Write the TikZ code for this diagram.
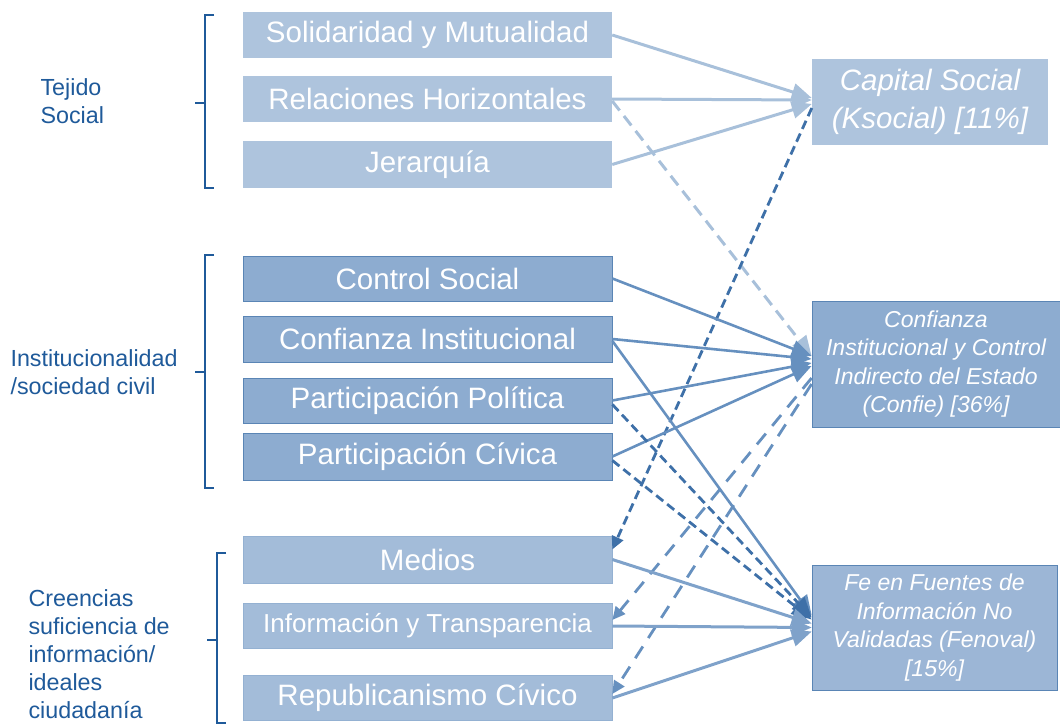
\documentclass[tikz,border=0pt]{standalone}
\usepackage{fontspec}
\setmainfont{Liberation Sans}
\usetikzlibrary{arrows.meta}
\definecolor{boxA}{HTML}{AEC4DD}
\definecolor{boxB}{HTML}{8DACD0}
\definecolor{boxC}{HTML}{A3BCD9}
\definecolor{boxR}{HTML}{9CB6D6}
\definecolor{edgeB}{HTML}{5A85B5}
\definecolor{lab}{HTML}{1F5A9A}
\definecolor{lineA}{HTML}{A8C0DA}
\definecolor{lineB}{HTML}{6690BF}
\definecolor{lineD}{HTML}{3E70A8}
\definecolor{lineC}{HTML}{7FA2CA}
\begin{document}
\begin{tikzpicture}[x=1pt,y=-1pt,
  lbox/.style={rectangle, minimum width=369pt, inner sep=0pt, text=white,
    font=\fontsize{29.5}{31}\selectfont},
  topbox/.style={lbox, fill=boxA},
  midbox/.style={lbox, fill=boxB, draw=edgeB, line width=0.8pt},
  botbox/.style={lbox, fill=boxC, draw=boxC!80!edgeB, line width=0.6pt},
  rbox/.style={rectangle, inner sep=0pt, text=white, align=center},
  grplabel/.style={text=lab, align=left, anchor=west, font=\fontsize{23.3}{28}\selectfont},
  bracket/.style={draw=lab, line width=2.6pt},
  tip/.style={-{Triangle[length=20pt,width=17pt]}},
  smalltip/.style={-{Triangle[length=13pt,width=12pt]}},
  solA/.style={tip, draw=lineA, line width=3pt},
  solB/.style={tip, draw=lineB, line width=2.6pt},
  solC/.style={tip, draw=lineC, line width=3pt},
  dashD/.style={tip, draw=lineD, line width=2.8pt, dash pattern=on 9pt off 5pt},
  dashA/.style={tip, draw=lineA, line width=3pt, dash pattern=on 12pt off 7pt},
  dashB/.style={tip, draw=lineB, line width=2.8pt, dash pattern=on 14pt off 10pt},
]
\useasboundingbox (0,0) rectangle (1060,723);

% left group labels
\node[grplabel] (tej) at (37,101) {Tejido\\Social};
\node[grplabel] (ins) at (7,372) {Institucionalidad\\/sociedad civil};
\node[grplabel] (cre) at (25,654) {Creencias\\suficiencia de\\información/\\ideales\\ciudadanía};

% brackets
\draw[bracket] (214,15) -- (205,15) -- (205,188) -- (214,188);
\draw[bracket] (205,103) -- (195,103);
\draw[bracket] (214,255) -- (205,255) -- (205,488) -- (214,488);
\draw[bracket] (205,372) -- (195,372);
\draw[bracket] (226,553) -- (217,553) -- (217,723) -- (226,723);
\draw[bracket] (217,640) -- (207,640);

% left boxes
\node[topbox, minimum height=46pt] (sol) at (427.5,35) {Solidaridad y Mutualidad};
\node[topbox, minimum height=46pt] (rel) at (427.5,99) {Relaciones Horizontales};
\node[topbox, minimum height=47pt] (jer) at (427.5,164.5) {Jerarquía};
\node[midbox, minimum height=45pt] (cs) at (427.5,278.5) {Control Social};
\node[midbox, minimum height=46pt] (ci) at (427.5,339) {Confianza Institucional};
\node[midbox, minimum height=45pt] (pp) at (427.5,400.5) {Participación Política};
\node[midbox, minimum height=47pt] (pc) at (427.5,456.5) {Participación Cívica};
\node[botbox, minimum height=47pt] (med) at (427.5,559.5) {Medios};
\node[botbox, minimum height=45pt, font=\fontsize{26}{28}\selectfont] (inf) at (427.5,626) {Información y Transparencia};
\node[botbox, minimum height=45pt] (rep) at (427.5,698) {Republicanismo Cívico};

% right boxes
\node[rbox, fill=boxA, minimum width=236pt, minimum height=86pt,
  font=\fontsize{29.5}{38}\selectfont\itshape] (cap) at (930,102)
  {Capital Social\\(Ksocial) [11\%]};
\node[rbox, fill=boxB, draw=edgeB, line width=0.8pt, minimum width=248pt, minimum height=126pt,
  font=\fontsize{23}{28.5}\selectfont\itshape] (conf) at (936,364)
  {Confianza\\Institucional y Control\\Indirecto del Estado\\(Confie) [36\%]};
\node[rbox, fill=boxR, draw=edgeB, line width=0.6pt, minimum width=245pt, minimum height=125pt,
  font=\fontsize{23}{28.5}\selectfont\itshape] (fen) at (934.5,627.5)
  {Fe en Fuentes de\\Información No\\Validadas (Fenoval)\\[0pt][15\%]};

% connectors to Capital Social
\draw[solA] (sol.east) -- ([yshift=4pt]cap.west);
\draw[solA] (rel.east) -- ([yshift=2pt]cap.west);
\draw[solA] (jer.east) -- ([yshift=-2pt]cap.west);
\draw[dashA] ([yshift=-2pt]rel.east) -- ([yshift=8pt]conf.west);
\draw[dashD, smalltip] ([yshift=-6pt]cap.west) -- ([yshift=10pt]med.east);

% connectors to Confie
\draw[solB] (cs.east) -- ([yshift=8pt]conf.west);
\draw[solB] (ci.east) -- ([yshift=5pt]conf.west);
\draw[solB] (pp.east) -- ([yshift=1pt]conf.west);
\draw[solB] (pc.east) -- ([yshift=-2pt]conf.west);
\draw[dashB, smalltip] ([yshift=-14pt]conf.west) -- ([yshift=6pt]inf.east);
\draw[dashB, smalltip] ([yshift=-20pt]conf.west) -- ([yshift=4pt]rep.east);

% connectors to Fenoval
\draw[solB] ([yshift=-2pt]ci.east) -- ([yshift=12pt]fen.west);
\draw[dashD] ([yshift=-4pt]pp.east) -- ([yshift=10pt]fen.west);
\draw[dashD] ([yshift=-4pt]pc.east) -- ([yshift=8pt]fen.west);
\draw[solC] (med.east) -- ([yshift=4pt]fen.west);
\draw[solC] (inf.east) -- (fen.west);
\draw[solC] (rep.east) -- ([yshift=-4pt]fen.west);
\end{tikzpicture}
\end{document}
